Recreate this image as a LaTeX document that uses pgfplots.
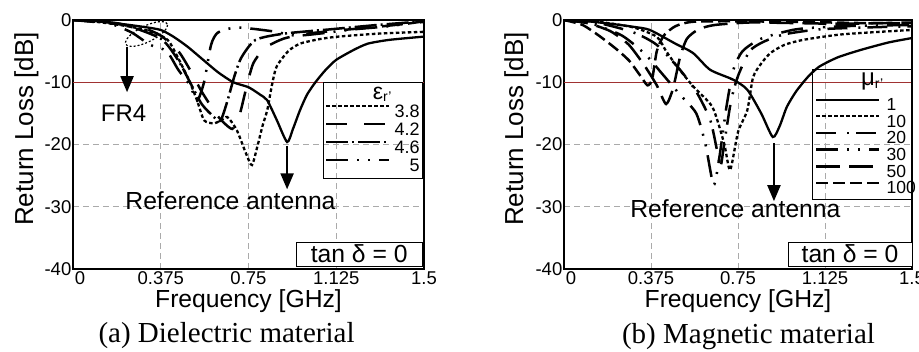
\documentclass[border=0pt]{standalone}
\usepackage{pgfplots}
\pgfplotsset{compat=1.18}
\usetikzlibrary{arrows.meta,shapes.geometric}
\usepackage{fontspec}
\setmainfont{Liberation Sans}
\newfontfamily\capfont{Liberation Serif}
\definecolor{gridgray}{RGB}{170,170,170}
\definecolor{redline}{RGB}{160,50,50}

\pgfplotsset{
  myaxis/.style={
    scale only axis, height=249pt,
    xmin=0, xmax=1.5, ymin=-40, ymax=0,
    xtick={0,0.375,0.75,1.125,1.5},
    xticklabels={{\hspace{14pt}0},0.375,0.75,1.125,1.5},
    ytick={-40,-30,-20,-10,0},
    yticklabels={-40,-30,-20,-10,0},
    major tick length=0pt,
    /pgf/number format/assume math mode=true,
    tick label style={font=\fontsize{18.5}{20}\selectfont, inner sep=1.5pt},
    xticklabel style={yshift=-1pt},
    grid=major,
    grid style={gridgray, dash pattern=on 6pt off 4pt, line width=0.9pt},
    axis line style={line width=1.4pt},
    legend image code/.code={\draw[##1] (0pt,5pt) -- (63pt,5pt);},
    legend style={draw=none, fill=none,
      inner sep=0pt, nodes={inner sep=0pt, text height=12pt, text depth=0pt},
      column sep=4pt},
  },
  cA/.style={black, line width=2.3pt},
  cB/.style={black, line width=2.3pt, dash pattern=on 3.5pt off 2.5pt},
  cC/.style={black, line width=2.5pt, dash pattern=on 21pt off 17pt},
  cD/.style={black, line width=2.5pt, dash pattern=on 22pt off 4pt on 2pt off 4pt},
  cE/.style={black, line width=2.5pt, dash pattern=on 22pt off 9pt on 2pt off 9pt on 2pt off 9pt},
  cF/.style={black, line width=2.5pt, dash pattern=on 20pt off 11pt on 2pt off 7pt},
  cG/.style={black, line width=2.5pt, dash pattern=on 24pt off 9pt},
  cH/.style={black, line width=2.5pt, dash pattern=on 12pt off 5pt},
}

\begin{document}
\begin{tikzpicture}
\useasboundingbox (0pt,-352pt) rectangle (919pt,0pt);

% ---------------- (a) Dielectric material ----------------
\begin{axis}[myaxis, width=351pt, at={(73pt,-269pt)}, anchor=south west,
  legend style={at={(axis cs:1.077,-13.6)}, anchor=north west, row sep=5.8pt,
    font=\fontsize{18}{19}\selectfont},
  legend cell align=right]
\draw[redline, line width=1.1pt] (axis cs:0,-10) -- (axis cs:1.5,-10);
% reference antenna (no legend entry)
\addplot[cA, smooth, tension=0.4, forget plot] coordinates {
(0,0) (0.1,-0.2) (0.2,-0.6) (0.3,-1.1) (0.375,-1.6) (0.43,-2.7) (0.49,-4.3)
(0.55,-6.2) (0.62,-8.4) (0.685,-10) (0.75,-10.8) (0.8,-12) (0.83,-12.9)
(0.87,-16) (0.915,-19.6) (0.94,-17.5) (0.97,-14.5) (1.0,-12) (1.036,-10)
(1.08,-8) (1.125,-6.4) (1.2,-4.8) (1.26,-3.8) (1.35,-3.2) (1.49,-2.7) (1.5,-2.7)};
\addplot[cB, smooth, tension=0.4] coordinates {
(0,0) (0.1,-0.3) (0.2,-0.8) (0.3,-1.5) (0.375,-2.5) (0.415,-3.7) (0.49,-9.2)
(0.53,-12.9) (0.56,-16.1) (0.6,-16.6) (0.63,-16.2) (0.66,-15.6) (0.70,-17.7)
(0.74,-21.5) (0.765,-23.3) (0.79,-20) (0.81,-17) (0.83,-14.5) (0.85,-10.5)
(0.87,-7.5) (0.92,-5) (0.97,-3.8) (1.05,-3.1) (1.125,-2.7) (1.3,-2.2) (1.5,-1.9)};
\addlegendentry{3.8}
\addplot[cC, smooth, tension=0.4] coordinates {
(0,0) (0.2,-0.7) (0.3,-1.3) (0.375,-2.5) (0.45,-5) (0.5,-8) (0.55,-11.5)
(0.62,-15.5) (0.68,-17.5) (0.71,-15.5) (0.74,-11) (0.77,-7) (0.82,-4.5)
(0.9,-3) (1.0,-2.2) (1.125,-1.7) (1.3,-1.1) (1.5,-0.3)};
\addlegendentry{4.2}
\addplot[cD, smooth, tension=0.4] coordinates {
(0,0) (0.2,-0.6) (0.375,-3) (0.45,-6.5) (0.5,-10) (0.55,-13.5) (0.6,-15.5)
(0.63,-16.2) (0.66,-13) (0.69,-9) (0.72,-6) (0.78,-3.2) (0.9,-2.2)
(1.1,-1.5) (1.3,-0.8) (1.5,-0.2)};
\addlegendentry{4.6}
\addplot[cE, smooth, tension=0.4] coordinates {
(0,0) (0.15,-0.5) (0.25,-2) (0.33,-4) (0.4,-5) (0.45,-8) (0.5,-10.5)
(0.53,-13) (0.56,-10) (0.59,-4) (0.62,-2) (0.7,-1.2) (0.85,-1.8)
(0.95,-2.5) (1.05,-2.2) (1.2,-1.5) (1.35,-1) (1.5,-0.2)};
\addlegendentry{5}
% annotations
\node[draw=black, ellipse, line width=1.2pt, dash pattern=on 2pt off 2pt,
  rotate=26, minimum width=46pt, minimum height=16pt, inner sep=0pt]
  at (axis cs:0.314,-2.25) {};
\draw[black, line width=2pt, -{Triangle[width=13pt,length=16pt]}]
  (axis cs:0.231,-4.3) -- (axis cs:0.231,-11.6);
\node[font=\fontsize{24}{26}\selectfont] at (axis cs:0.216,-15) {FR4};
\draw[black, line width=2.2pt, -{Triangle[width=13pt,length=16pt]}]
  (axis cs:0.915,-20.3) -- (axis cs:0.915,-27.2);
\node[anchor=base, font=\fontsize{24.7}{26}\selectfont] at (axis cs:0.673,-30.4) {Reference antenna};
\draw[black, line width=1pt] (axis cs:1.069,-10.1) rectangle (axis cs:1.492,-25.4);
\node[font=\fontsize{23}{24}\selectfont] at (axis cs:1.321,-12.0) {ε\raisebox{-2pt}{\fontsize{14}{15}\selectfont r'}};
\node[draw, line width=1pt, fill=white, minimum width=126pt, minimum height=24pt,
  inner sep=0pt, font=\fontsize{24.7}{26}\selectfont] at (axis cs:1.223,-37.6) {tan δ = 0};
\end{axis}

% ---------------- (b) Magnetic material ----------------
\begin{axis}[myaxis, width=348pt, at={(564pt,-269pt)}, anchor=south west,
  legend style={at={(axis cs:1.082,-12.6)}, anchor=north west, row sep=4.4pt,
    column sep=6pt, font=\fontsize{17.5}{18}\selectfont},
  legend cell align=left]
\draw[redline, line width=1.1pt] (axis cs:0,-10) -- (axis cs:1.5,-10);
\addplot[cA, smooth, tension=0.4] coordinates {
(0,0) (0.1,-0.2) (0.2,-0.6) (0.3,-1.1) (0.37,-1.6) (0.48,-3.8) (0.556,-5.3)
(0.63,-8) (0.73,-9.6) (0.79,-11.2) (0.85,-15) (0.9,-18.8) (0.93,-17)
(0.96,-14) (1.0,-11.5) (1.05,-9.2) (1.1,-7.5) (1.18,-6) (1.28,-4.8)
(1.4,-3.6) (1.5,-2.9)};
\addlegendentry{1}
\addplot[cB, smooth, tension=0.4] coordinates {
(0,0) (0.15,-0.3) (0.3,-1.2) (0.4,-2.7) (0.44,-5) (0.49,-7.6) (0.56,-10.8)
(0.64,-14) (0.69,-19.8) (0.716,-24.1) (0.75,-18) (0.79,-14.5) (0.815,-9.2)
(0.85,-7) (0.89,-5.3) (0.95,-4) (1.03,-3.2) (1.2,-2.3) (1.5,-1.6)};
\addlegendentry{10}
\addplot[cF, smooth, tension=0.4] coordinates {
(0,0) (0.15,-0.5) (0.3,-2) (0.4,-4) (0.5,-8) (0.57,-11.5) (0.63,-16)
(0.66,-21) (0.675,-23.5) (0.69,-20) (0.72,-13) (0.75,-9) (0.8,-5)
(0.86,-3.5) (0.95,-2.3) (1.1,-1.5) (1.3,-1.2) (1.5,-1)};
\addlegendentry{20}
\addplot[cE, smooth, tension=0.4] coordinates {
(0,0) (0.12,-0.6) (0.25,-2.5) (0.35,-5.5) (0.42,-8.5) (0.5,-12) (0.57,-15)
(0.61,-20) (0.645,-26.5) (0.67,-22) (0.7,-14) (0.73,-8) (0.77,-5)
(0.85,-3) (1.0,-1.5) (1.2,-1) (1.5,-0.8)};
\addlegendentry{30}
\addplot[cG, smooth, tension=0.4] coordinates {
(0,0) (0.1,-0.5) (0.2,-1.8) (0.28,-4) (0.35,-7.5) (0.4,-10.5) (0.44,-13.5)
(0.47,-11) (0.5,-6) (0.53,-3) (0.58,-1.5) (0.65,-0.8) (0.8,-0.4)
(1.0,-0.5) (1.2,-0.6) (1.5,-0.4)};
\addlegendentry{50}
\addplot[cH, smooth, tension=0.4] coordinates {
(0,0) (0.08,-0.8) (0.15,-2.5) (0.22,-4.5) (0.28,-6.5) (0.33,-9) (0.36,-10.5)
(0.38,-9.5) (0.4,-5) (0.43,-2.5) (0.48,-1) (0.55,-0.3) (0.7,-0.2)
(1.0,-0.3) (1.3,-0.5) (1.5,-0.5)};
\addlegendentry{100}
\draw[black, line width=2.2pt, -{Triangle[width=13pt,length=16pt]}]
  (axis cs:0.905,-19.8) -- (axis cs:0.905,-29.1);
\node[anchor=base, font=\fontsize{24.7}{26}\selectfont] at (axis cs:0.739,-31.8) {Reference antenna};
\draw[black, line width=1pt] (axis cs:1.073,-7.9) rectangle (axis cs:1.496,-28.9);
\node[font=\fontsize{24}{26}\selectfont] at (axis cs:1.328,-9.8) {μ\raisebox{-3pt}{\fontsize{14}{15}\selectfont r'}};
\node[draw, line width=1pt, fill=white, minimum width=124pt, minimum height=24pt,
  inner sep=0pt, font=\fontsize{24.7}{26}\selectfont] at (axis cs:1.233,-37.6) {tan δ = 0};
\end{axis}

% axis labels and captions
\node[anchor=base, font=\fontsize{24.7}{26}\selectfont] at (248.5pt,-308pt) {Frequency [GHz]};
\node[anchor=base, font=\fontsize{24.7}{26}\selectfont] at (738pt,-308pt) {Frequency [GHz]};
\node[anchor=base, rotate=90, font=\fontsize{26}{28}\selectfont] at (33pt,-129pt) {Return Loss [dB]};
\node[anchor=base, rotate=90, font=\fontsize{26}{28}\selectfont] at (523pt,-129pt) {Return Loss [dB]};
\node[anchor=base, font=\capfont\fontsize{29}{31}\selectfont] at (226.5pt,-343pt) {(a) Dielectric material};
\node[anchor=base, font=\capfont\fontsize{29}{31}\selectfont] at (748.5pt,-344pt) {(b) Magnetic material};
\end{tikzpicture}
\end{document}
